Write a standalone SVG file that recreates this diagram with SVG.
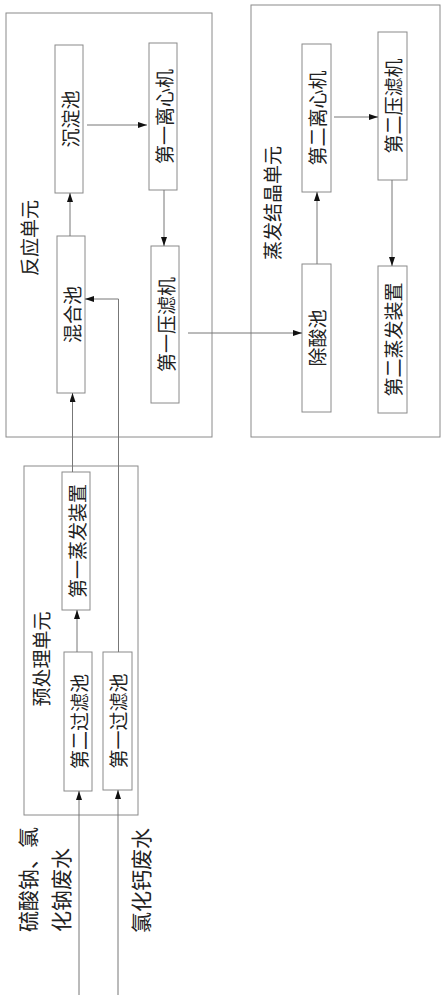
<svg xmlns="http://www.w3.org/2000/svg" width="445" height="1000" viewBox="0 0 445 1000">
<style>
.unit{fill:none;stroke:#8a8a8a;stroke-width:1}
.box{fill:#fff;stroke:#8a8a8a;stroke-width:1}
.t{font-family:"Noto Sans CJK SC","Noto Sans",sans-serif;font-size:19px;fill:#222;text-anchor:middle;dominant-baseline:central}
.lab{font-family:"Noto Sans CJK SC","Noto Sans",sans-serif;font-size:19px;fill:#222;text-anchor:middle;dominant-baseline:central}
.in{font-family:"Noto Sans CJK SC","Noto Sans",sans-serif;font-size:21px;fill:#222;text-anchor:start;dominant-baseline:central}
.c{fill:none;stroke:#777;stroke-width:1}
.a{marker-end:url(#arr)}
</style>
<defs>
<marker id="arr" markerUnits="userSpaceOnUse" markerWidth="9" markerHeight="6" refX="9" refY="3" orient="auto">
<path d="M0,0 L9,3 L0,6 Z" fill="#111"/>
</marker>
</defs>
<rect width="445" height="1000" fill="#fff"/>

<g id="reaction-unit">
<rect class="unit" x="6" y="13" width="206" height="424"/>
<text class="lab" transform="translate(28,238) rotate(-90)">反应单元</text>
</g>
<g id="evap-unit">
<rect class="unit" x="251" y="5" width="189" height="432"/>
<text class="lab" transform="translate(271,203) rotate(-90)">蒸发结晶单元</text>
</g>
<g id="pre-unit">
<rect class="unit" x="24" y="466" width="114" height="349"/>
<text class="lab" transform="translate(40,659) rotate(-90)">预处理单元</text>
</g>

<g id="n-chendian">
<rect class="box" x="55" y="45" width="28" height="148"/>
<text class="t" transform="translate(69,119) rotate(-90)">沉淀池</text>
</g>
<g id="n-lixin1">
<rect class="box" x="149" y="43" width="28" height="147"/>
<text class="t" transform="translate(163,116.5) rotate(-90)">第一离心机</text>
</g>
<g id="n-hunhe">
<rect class="box" x="57" y="236" width="28" height="157"/>
<text class="t" transform="translate(71,314.5) rotate(-90)">混合池</text>
</g>
<g id="n-yalv1">
<rect class="box" x="151" y="246" width="28" height="157"/>
<text class="t" transform="translate(165,324.5) rotate(-90)">第一压滤机</text>
</g>
<g id="n-lixin2">
<rect class="box" x="302" y="44" width="29" height="148"/>
<text class="t" transform="translate(316.5,118) rotate(-90)">第二离心机</text>
</g>
<g id="n-yalv2">
<rect class="box" x="378" y="32" width="29" height="148"/>
<text class="t" transform="translate(392.5,106) rotate(-90)">第二压滤机</text>
</g>
<g id="n-chusuan">
<rect class="box" x="302" y="264" width="29" height="148"/>
<text class="t" transform="translate(316.5,338) rotate(-90)">除酸池</text>
</g>
<g id="n-zhengfa2">
<rect class="box" x="378" y="266" width="29" height="147"/>
<text class="t" transform="translate(392.5,339.5) rotate(-90)">第二蒸发装置</text>
</g>
<g id="n-zhengfa1">
<rect class="box" x="62" y="472" width="28" height="138"/>
<text class="t" transform="translate(76,541) rotate(-90)">第一蒸发装置</text>
</g>
<g id="n-guolv2">
<rect class="box" x="64" y="652" width="28" height="139"/>
<text class="t" transform="translate(78,721.5) rotate(-90)">第二过滤池</text>
</g>
<g id="n-guolv1">
<rect class="box" x="103" y="652" width="29" height="138"/>
<text class="t" transform="translate(117.5,721) rotate(-90)">第一过滤池</text>
</g>

<g id="inputs">
<text class="in" transform="translate(27,932) rotate(-90)">硫酸钠、氯</text>
<text class="in" transform="translate(60,932) rotate(-90)">化钠废水</text>
<text class="in" transform="translate(139.5,933) rotate(-90)">氯化钙废水</text>
</g>

<g id="connectors">
<path class="c a" d="M79,995 V791"/>
<path class="c a" d="M118,995 V790"/>
<path class="c a" d="M77,652 V610"/>
<path class="c a" d="M72.5,472 V393"/>
<path class="c a" d="M118.5,652 V299 H85"/>
<path class="c a" d="M70,236 V193"/>
<path class="c a" d="M87,125 H147"/>
<path class="c a" d="M164,190 V246"/>
<path class="c a" d="M188,333 H302"/>
<path class="c a" d="M317,264 V192"/>
<path class="c a" d="M334,117 H378"/>
<path class="c a" d="M392,180 V266"/>
</g>
</svg>
